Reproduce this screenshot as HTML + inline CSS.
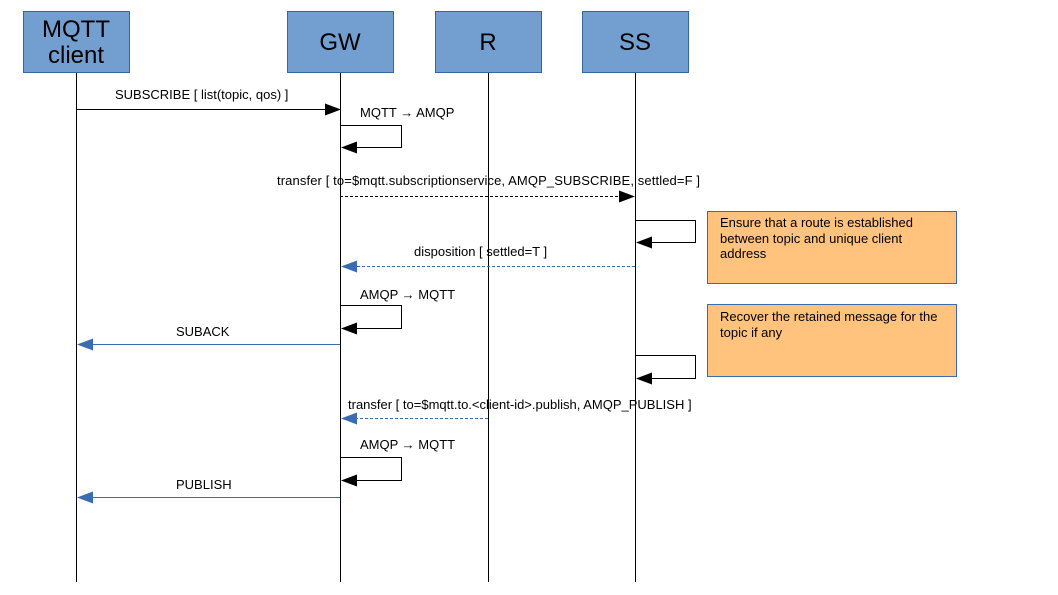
<!DOCTYPE html>
<html><head><meta charset="utf-8"><style>
html,body{margin:0;padding:0;background:#fff;}
svg{display:block;}
text{font-family:"Liberation Sans",sans-serif;}
</style></head><body>
<svg width="1058" height="595" viewBox="0 0 1058 595" xmlns="http://www.w3.org/2000/svg">
<defs>
<marker id="ab" markerWidth="16" markerHeight="12" refX="15" refY="6" orient="auto" markerUnits="userSpaceOnUse"><path d="M0,0 L16,6 L0,12 Z" fill="#000"/></marker>
<marker id="au" markerWidth="16" markerHeight="12" refX="15" refY="6" orient="auto" markerUnits="userSpaceOnUse"><path d="M0,0 L16,6 L0,12 Z" fill="#3a6db0"/></marker>
</defs>
<g stroke="#000" stroke-width="1">
<line x1="76.5" y1="72" x2="76.5" y2="582"/>
<line x1="340.5" y1="72" x2="340.5" y2="582"/>
<line x1="488.5" y1="72" x2="488.5" y2="582"/>
<line x1="635.5" y1="72" x2="635.5" y2="582"/>
</g>
<g fill="#729fcf" stroke="#3465a4" stroke-width="1">
<rect x="23.5" y="11.5" width="106" height="61"/>
<rect x="287.5" y="11.5" width="106" height="61"/>
<rect x="435.5" y="11.5" width="106" height="61"/>
<rect x="582.5" y="11.5" width="106" height="61"/>
</g>
<g font-size="24" text-anchor="middle" fill="#000">
<text x="76" y="37">MQTT</text><text x="76" y="63">client</text>
<text x="340" y="50">GW</text>
<text x="488" y="50">R</text>
<text x="635" y="50">SS</text>
</g>
<g fill="#ffc37e" stroke="#3a6db0" stroke-width="1">
<rect x="707.5" y="211.5" width="249" height="72"/>
<rect x="707.5" y="304.5" width="249" height="72"/>
</g>
<g font-size="13" fill="#000">
<text x="720" y="227">Ensure that a route is established</text>
<text x="720" y="243">between topic and unique client</text>
<text x="720" y="258">address</text>
<text x="720" y="321">Recover the retained message for the</text>
<text x="720" y="337">topic if any</text>
</g>
<g fill="none" stroke-width="1">
<line x1="76" y1="109.5" x2="340" y2="109.5" stroke="#000" marker-end="url(#ab)"/>
<path d="M340,125.5 H401.5 V147.5 H342" stroke="#000" marker-end="url(#ab)"/>
<line x1="340" y1="196.5" x2="634" y2="196.5" stroke="#000" stroke-dasharray="3,2" marker-end="url(#ab)"/>
<path d="M635,220.5 H695.5 V242.5 H637" stroke="#000" marker-end="url(#ab)"/>
<line x1="635" y1="266.5" x2="342" y2="266.5" stroke="#3a6db0" stroke-dasharray="3,2" marker-end="url(#au)"/>
<path d="M340,305.5 H401.5 V328.5 H342" stroke="#000" marker-end="url(#ab)"/>
<line x1="340" y1="344.5" x2="78" y2="344.5" stroke="#3a6db0" marker-end="url(#au)"/>
<path d="M635,355.5 H695.5 V378.5 H637" stroke="#000" marker-end="url(#ab)"/>
<line x1="488" y1="418.5" x2="342" y2="418.5" stroke="#3a6db0" stroke-dasharray="3,2" marker-end="url(#au)"/>
<path d="M340,457.5 H401.5 V480.5 H342" stroke="#000" marker-end="url(#ab)"/>
<line x1="340" y1="497.5" x2="78" y2="497.5" stroke="#3a6db0" marker-end="url(#au)"/>
</g>
<g font-size="13" fill="#000">
<text x="115" y="99">SUBSCRIBE [ list(topic, qos) ]</text>
<text x="360" y="117">MQTT → AMQP</text>
<text x="277" y="185" textLength="423">transfer [ to=$mqtt.subscriptionservice, AMQP_SUBSCRIBE, settled=F ]</text>
<text x="414" y="256">disposition [ settled=T ]</text>
<text x="360" y="299">AMQP → MQTT</text>
<text x="176" y="336">SUBACK</text>
<text x="348" y="409">transfer [ to=$mqtt.to.&lt;client-id&gt;.publish, AMQP_PUBLISH ]</text>
<text x="360" y="449">AMQP → MQTT</text>
<text x="176" y="489">PUBLISH</text>
</g>
</svg>
</body></html>
